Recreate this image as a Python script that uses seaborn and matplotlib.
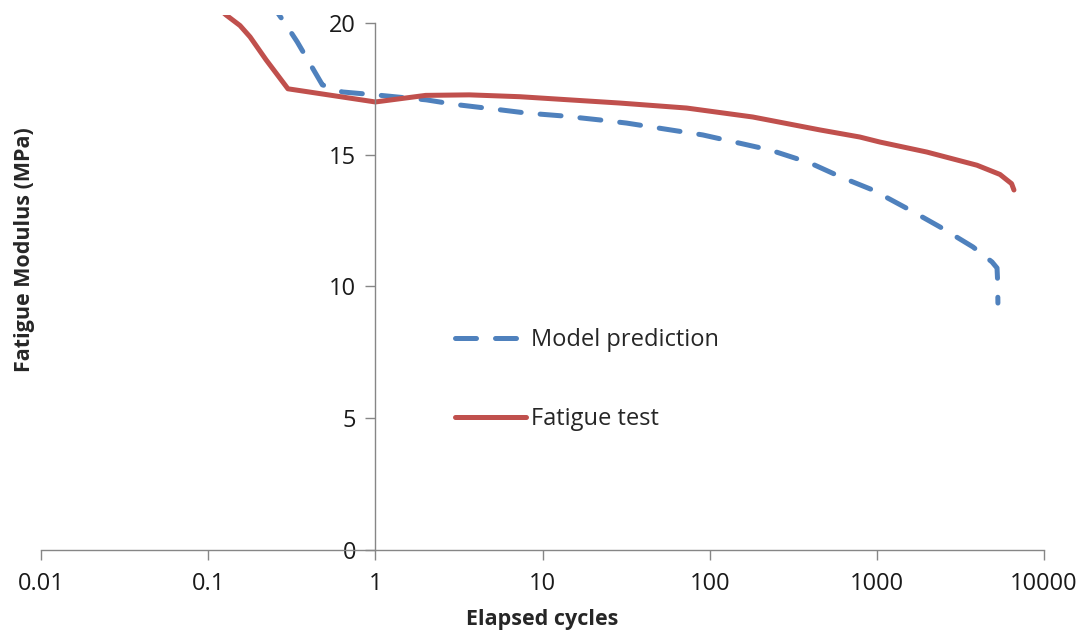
"""
Fatigue modulus vs elapsed cycles: model prediction vs fatigue test
"""

import numpy as np
import pandas as pd
import matplotlib
matplotlib.use("Agg")
import matplotlib.pyplot as plt
import seaborn as sns

# Model prediction (blue dashed)
model_cycles = [0.232, 0.266, 0.293, 0.341, 0.482, 0.634, 1.0, 2.02, 3.05, 5.0, 8.0,
                13.2, 21.9, 31.8, 90.8, 229, 397, 626, 946, 1578, 2384, 3757,
                4886, 5236, 5280, 5300]
model_modulus = [20.85, 20.3, 19.92, 19.28, 17.65, 17.38, 17.27, 17.08, 16.9, 16.74, 16.58,
                 16.47, 16.32, 16.2, 15.75, 15.18, 14.69, 14.12, 13.66, 12.9, 12.26, 11.5,
                 10.93, 10.7, 10.2, 9.37]

# Fatigue test (red solid)
test_cycles = [0.1, 0.128, 0.155, 0.178, 0.222, 0.3, 1.0, 2.0, 3.65, 7.3, 14.5, 28.9, 72.8,
               181, 456, 791, 1042, 1991, 3972, 5454, 6000, 6400, 6610]
test_modulus = [20.9, 20.3, 19.9, 19.47, 18.6, 17.5, 17.0, 17.25, 17.27, 17.2, 17.08, 16.96, 16.77,
                16.43, 15.94, 15.67, 15.48, 15.1, 14.6, 14.25, 14.04, 13.9, 13.66]

x_ticks = [0.01, 0.1, 1, 10, 100, 1000, 10000]
x_tick_labels = ["0.01", "0.1", "1", "10", "100", "1000", "10000"]
y_ticks = [0, 5, 10, 15, 20]

BLUE = "#4F81BD"
RED = "#C0504D"
GREY = "#868686"

sns.set_theme(style="white")
plt.rcParams["font.family"] = ["Open Sans", "DejaVu Sans"]

df_model = pd.DataFrame({"cycles": model_cycles, "modulus": model_modulus})
df_test = pd.DataFrame({"cycles": test_cycles, "modulus": test_modulus})

fig = plt.figure(figsize=(10.87, 6.41), dpi=100)
ax = fig.add_axes([41 / 1087, 1 - 550 / 641, 1003 / 1087, 535 / 641])

sns.lineplot(data=df_model, x="cycles", y="modulus", ax=ax, sort=False, estimator=None,
             color=BLUE, linewidth=3.6, linestyle=(0, (4.2, 3.8)),
             dash_capstyle="round", label="Model prediction")
sns.lineplot(data=df_test, x="cycles", y="modulus", ax=ax, sort=False, estimator=None,
             color=RED, linewidth=3.6, solid_capstyle="round", solid_joinstyle="round",
             label="Fatigue test")

ax.set_xscale("log")
ax.set_xlim(0.01, 10000)
ax.set_ylim(0, 20.3)
ax.set_xticks(x_ticks)
ax.set_xticklabels(x_tick_labels)
ax.minorticks_off()
ax.set_yticks(y_ticks)

# y axis crosses at x = 1, as in the spreadsheet chart
ax.spines["left"].set_position(("data", 1))
ax.spines["left"].set_bounds(0, 20)
ax.spines["top"].set_visible(False)
ax.spines["right"].set_visible(False)
for s in ("left", "bottom"):
    ax.spines[s].set_color(GREY)
    ax.spines[s].set_linewidth(1.0)

ax.tick_params(axis="both", which="major", direction="out", length=7, width=1.0,
               color=GREY, labelsize=17, labelcolor="#1a1a1a")
ax.tick_params(axis="x", pad=9)
ax.tick_params(axis="y", pad=7)
ax.tick_params(left=True, bottom=True)

ax.set_xlabel("Elapsed cycles", fontsize=15.5, fontweight="bold", labelpad=9)
ax.set_ylabel("")
fig.text(25 / 1087, 1 - 250 / 641, "Fatigue Modulus (MPa)", rotation=90,
         fontsize=15.5, fontweight="bold", ha="center", va="center")

leg = ax.legend(loc="upper left", bbox_to_anchor=(0.4128, 0.415), frameon=False,
                fontsize=17, handlelength=3.0, handletextpad=0.2, labelspacing=2.35,
                borderpad=0, borderaxespad=0)

fig.savefig("out.png", dpi=100)
